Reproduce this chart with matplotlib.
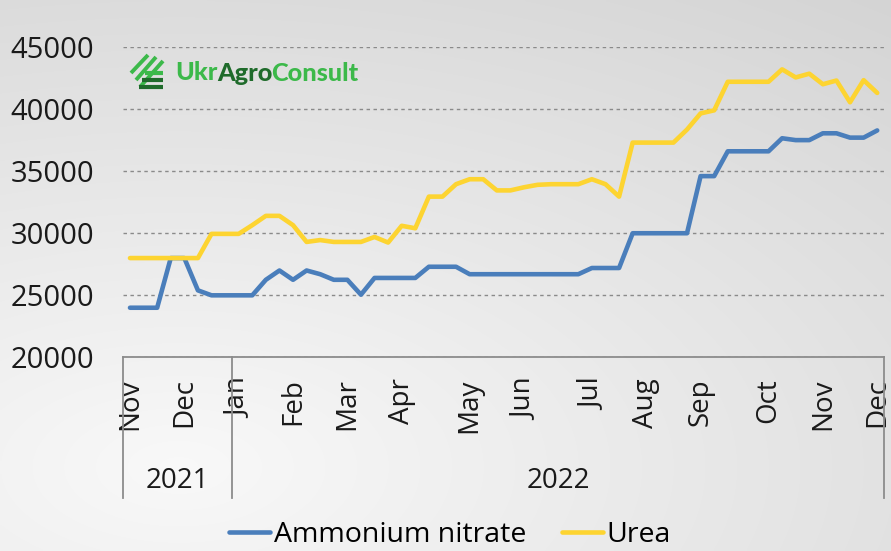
import numpy as np
import matplotlib
matplotlib.use("Agg")
import matplotlib.pyplot as plt
from matplotlib.lines import Line2D
import matplotlib.transforms as mtransforms

# ---------------- data ----------------
months = ['Nov', 'Dec', 'Jan', 'Feb', 'Mar', 'Apr', 'May', 'Jun', 'Jul',
          'Aug', 'Sep', 'Oct', 'Nov', 'Dec']
weeks_per_month = [4, 4, 4, 4, 4, 5, 4, 5, 4, 4, 5, 4, 4, 1]  # weekly points per month
years = ['2021', '2022']
year_months = [2, 12]   # number of month groups in each year

ammonium_nitrate = [24000, 24000, 24000, 28000, 28000, 25400, 25000, 25000,
                    25000, 25000, 26250, 27000, 26250, 27000, 26700, 26250,
                    26250, 25050, 26400, 26400, 26400, 26400, 27300, 27300,
                    27300, 26700, 26700, 26700, 26700, 26700, 26700, 26700,
                    26700, 26700, 27200, 27200, 27200, 30000, 30000, 30000,
                    30000, 30000, 34600, 34600, 36600, 36600, 36600, 36600,
                    37650, 37500, 37500, 38050, 38050, 37700, 37700, 38280]
urea = [28000, 28000, 28000, 28000, 28000, 28000, 29950, 29950,
        29950, 30650, 31400, 31400, 30650, 29300, 29450, 29300,
        29300, 29300, 29700, 29250, 30600, 30400, 32950, 32950,
        33950, 34350, 34350, 33450, 33450, 33700, 33900, 33950,
        33950, 33950, 34350, 33950, 32950, 37300, 37300, 37300,
        37300, 38350, 39650, 39900, 42200, 42200, 42200, 42200,
        43200, 42550, 42850, 42000, 42300, 40550, 42330, 41300]

series_names = ['Ammonium nitrate', 'Urea']
colors = ['#4A7EBB', '#FDD431']

# ---------------- figure ----------------
W, H = 891, 551
fig = plt.figure(figsize=(W / 100, H / 100), dpi=100)
plt.rcParams['font.family'] = ['Open Sans', 'DejaVu Sans']

# background gradient
bg = fig.add_axes([0, 0, 1, 1], zorder=-5)
xx, yy = np.meshgrid(np.linspace(0, 1, 300), np.linspace(1, 0, 200))
d = np.sqrt((xx - 0.2) ** 2 + ((yy - 0.15) * 1.2) ** 2)
v = np.clip(0.975 - 0.11 * d, 0, 1)
bg.imshow(np.dstack([v, v, v]), extent=[0, 1, 0, 1], aspect='auto',
          interpolation='bilinear')
bg.axis('off')

left_px, right_px, top_px, bot_px = 123.2, 884.0, 47.0, 357.4
ax = fig.add_axes([left_px / W, 1 - bot_px / H, (right_px - left_px) / W,
                   (bot_px - top_px) / H])
ax.set_facecolor('none')

n = len(urea)
x = np.arange(n)
ax.plot(x, ammonium_nitrate, color=colors[0], lw=3.3, solid_capstyle='round',
        solid_joinstyle='round', label=series_names[0], zorder=3)
ax.plot(x, urea, color=colors[1], lw=3.3, solid_capstyle='round',
        solid_joinstyle='round', label=series_names[1], zorder=3)

ax.set_xlim(-0.5, n - 0.5)
ax.set_ylim(20000, 45000)
ax.set_yticks(np.arange(20000, 45001, 5000))
ax.tick_params(axis='y', length=0, pad=21, labelsize=21, labelcolor='#1a1a1a')
ax.yaxis.grid(True, color='#8a8a8a', lw=1.0, linestyle=(0, (2.5, 2.5)))
ax.set_axisbelow(True)
for s in ['left', 'right', 'top']:
    ax.spines[s].set_visible(False)
ax.spines['bottom'].set_color('#8c8c8c')
ax.spines['bottom'].set_linewidth(1.3)

# month tick labels at first week of each month
month_pos = np.concatenate([[0], np.cumsum(weeks_per_month)[:-1]])
ax.set_xticks(month_pos)
ax.set_xticklabels(months, rotation=90, fontsize=20, color='#1a1a1a')
ax.tick_params(axis='x', length=0, pad=15)

# year grouping
trans = mtransforms.blended_transform_factory(ax.transData, ax.transAxes)
ybot = (bot_px - 498) / (bot_px - top_px)
ylab = (bot_px - 481) / (bot_px - top_px)
bounds = [0] + list(np.cumsum(year_months))
bpos = [month_pos[b] - 0.5 if b < len(month_pos) else n - 0.5 for b in bounds]
for bx in bpos:
    ax.add_line(Line2D([bx, bx], [0, ybot], transform=trans, color='#8c8c8c',
                       lw=1.3, clip_on=False))
for i, yr in enumerate(years):
    ax.text((bpos[i] + bpos[i + 1]) / 2, ylab, yr, transform=trans,
            ha='center', va='center', fontsize=20, color='#1a1a1a')

# legend
fig.legend(*ax.get_legend_handles_labels(), loc='center',
           bbox_to_anchor=(0.505, 0.029), ncol=2, frameon=False,
           fontsize=20.5, handlelength=1.45, handletextpad=0.12,
           columnspacing=1.25, borderaxespad=0, borderpad=0)

# logo
lg = '#3CB94A'
dg = '#1F6B2B'
icon = [((131, 73), (148, 55), lg), ((136, 80), (156, 57), lg),
        ((140, 87), (163, 61), lg)]
for (a, b, c) in icon:
    fig.add_artist(Line2D([a[0] / W, b[0] / W], [1 - a[1] / H, 1 - b[1] / H],
                          transform=fig.transFigure, color=c, lw=2.8,
                          solid_capstyle='butt'))
for yb, c, x0 in [(73, lg, 145), (80, dg, 142), (86.5, dg, 139)]:
    fig.add_artist(Line2D([x0 / W, 163 / W], [1 - yb / H, 1 - yb / H],
                          transform=fig.transFigure, color=c, lw=3.0,
                          solid_capstyle='butt'))
logo_kw = dict(fontsize=18.2, fontweight='black', family='Lato')
t1 = fig.text(175 / W, 1 - 73 / H, 'Ukr', color=lg, va='center', ha='left',
              **logo_kw)
t2 = fig.text(0, 0, 'Agro', color=dg, va='bottom', ha='left', **logo_kw)
t3 = fig.text(0, 0, 'Consult', color=lg, va='bottom', ha='left', **logo_kw)
fig.canvas.draw()
r = fig.canvas.get_renderer()
inv = fig.transFigure.inverted()
bb1 = t1.get_window_extent(r)
p = inv.transform((bb1.x1 - 0.5, bb1.y0))
t2.set_position(p)
bb2 = t2.get_window_extent(r)
p = inv.transform((bb2.x1 - 1.0, bb2.y0))
t3.set_position(p)

fig.savefig('out.png', dpi=100)
